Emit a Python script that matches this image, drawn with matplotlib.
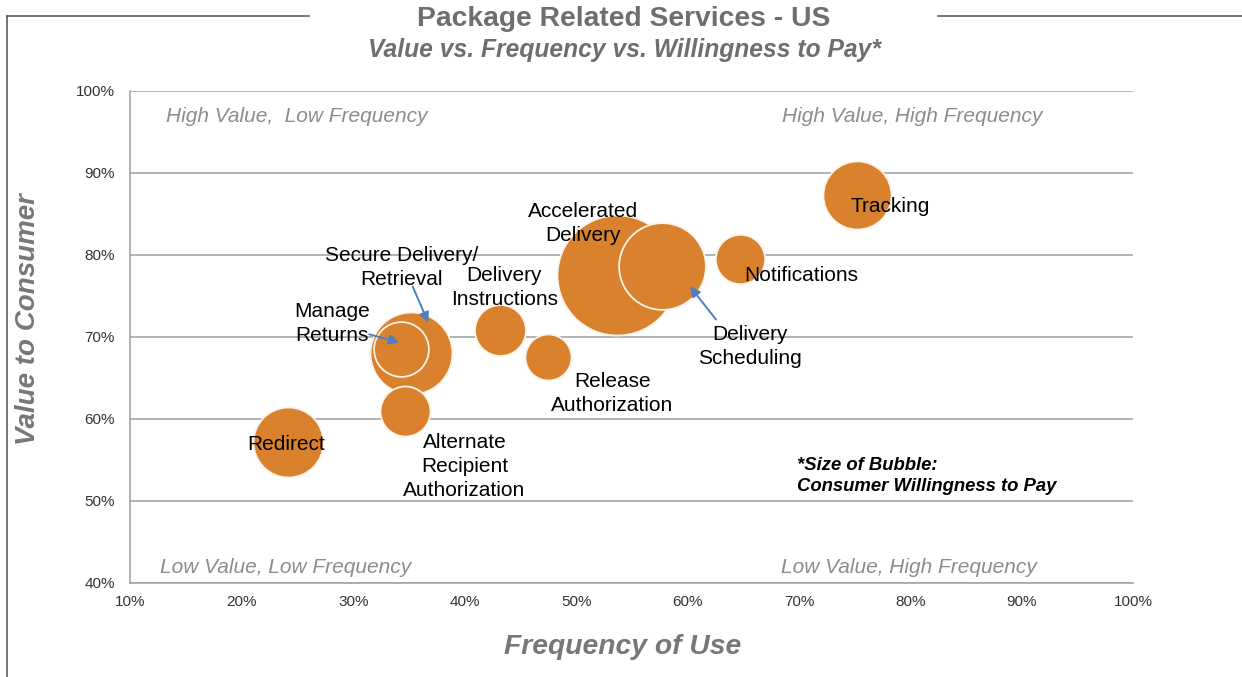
import matplotlib
matplotlib.use("Agg")
import matplotlib.pyplot as plt
from matplotlib.lines import Line2D
from matplotlib.transforms import offset_copy
import numpy as np

# ---------------- data ----------------
services = ["Tracking", "Notifications", "Accelerated\nDelivery", "Delivery\nScheduling",
            "Delivery\nInstructions", "Release\nAuthorization", "Secure Delivery/\nRetrieval",
            "Manage\nReturns", "Alternate\nRecipient\nAuthorization", "Redirect"]
frequency = [75.2, 64.7, 53.7, 57.7, 43.2, 47.5, 35.2, 34.3, 34.6, 24.1]   # % frequency of use
value = [87.3, 79.5, 77.6, 78.6, 70.9, 67.5, 68.1, 68.5, 61.0, 57.2]       # % value to consumer
willingness = [11.6, 6.1, 36.0, 18.8, 6.5, 5.3, 16.8, 7.5, 6.25, 12.25]    # bubble size
x_ticks = [10, 20, 30, 40, 50, 60, 70, 80, 90, 100]
y_ticks = [40, 50, 60, 70, 80, 90, 100]

# ---------------- layout / style ----------------
# label offsets (pixels) relative to bubble centre
label_offsets = [(33, -11), (61, -16), (-34, 51), (88, -80), (4, 42), (64, -36),
                 (-10, 85), (-69, 26), (60, -56), (-1.5, -3)]
# arrows: (service index, tail offset, head offset) in pixels
arrows = [(6, (1.5, 66), (17, 30)), (7, (-32, 15), (-2, 7)), (3, (54, -53), (28, -20))]

W, H, DPI = 1242, 677, 100
fig = plt.figure(figsize=(W / DPI, H / DPI), dpi=DPI)
plt.rcParams['font.family'] = ['Liberation Sans', 'DejaVu Sans']

L, R, T, B = 130.4, 1133.4, 91, 583
ax = fig.add_axes([L / W, 1 - B / H, (R - L) / W, (B - T) / H])
ax.set_xlim(10, 100)
ax.set_ylim(40, 100)

orange = "#D9812C"
grid_c = "#A6A6A6"
scale = (2 * 10 * 72 / DPI) ** 2  # radius_px = 10*sqrt(w)

order = np.argsort(willingness)[::-1]
for i in order:
    ax.scatter(frequency[i], value[i], s=willingness[i] * scale, color=orange,
               edgecolor="#FBF3EA", linewidth=1.3, zorder=3)

for i, name in enumerate(services):
    dx, dy = label_offsets[i]
    ax.annotate(name, (frequency[i], value[i]), xytext=(dx, dy), textcoords="offset pixels",
                ha="center", va="center", fontsize=15, color="black", zorder=6,
                linespacing=1.32)

for i, tail, head in arrows:
    tr_head = offset_copy(ax.transData, fig=fig, x=head[0], y=head[1], units="dots")
    tr_tail = offset_copy(ax.transData, fig=fig, x=tail[0], y=tail[1], units="dots")
    ax.annotate("", xy=(frequency[i], value[i]), xycoords=tr_head,
                xytext=(frequency[i], value[i]), textcoords=tr_tail,
                arrowprops=dict(arrowstyle="-|>,head_length=0.6,head_width=0.3",
                                color="#4F7FC0", lw=1.4, shrinkA=0, shrinkB=0),
                zorder=7)

ax.set_xticks(x_ticks)
ax.set_xticklabels([f"{t}%" for t in x_ticks])
ax.set_yticks(y_ticks)
ax.set_yticklabels([f"{t}%" for t in y_ticks])
ax.tick_params(axis="both", length=0, labelsize=11, labelcolor="#333333")
ax.tick_params(axis="y", pad=11)
ax.tick_params(axis="x", pad=9)
ax.yaxis.grid(True, color=grid_c, lw=1.2, zorder=0)
ax.set_axisbelow(True)
for s in ["top", "right"]:
    ax.spines[s].set_visible(False)
for s in ["left", "bottom"]:
    ax.spines[s].set_color(grid_c)
    ax.spines[s].set_linewidth(1.2)

quad_c = "#8C8C8C"
def axfrac(px, py):
    return ((px - L) / (R - L), (B - py) / (B - T))
for txt, px, py in [("High Value,  Low Frequency", 297, 117),
                    ("High Value, High Frequency", 912, 117),
                    ("Low Value, Low Frequency", 286, 567.7),
                    ("Low Value, High Frequency", 909, 567.7)]:
    ax.text(*axfrac(px, py), txt, transform=ax.transAxes, ha="center", va="center",
            fontsize=15, style="italic", color=quad_c)

ax.text(*axfrac(797, 476), "*Size of Bubble:\nConsumer Willingness to Pay", transform=ax.transAxes,
        ha="left", va="center", fontsize=13.3, style="italic", weight="bold", color="black",
        linespacing=1.3)

title_c = "#6E6E6E"
fig.text(624 / W, 1 - 19 / H, "Package Related Services - US", ha="center", va="center",
         fontsize=20.3, weight="bold", color=title_c)
fig.text(624 / W, 1 - 50 / H, "Value vs. Frequency vs. Willingness to Pay*", ha="center", va="center",
         fontsize=17.7, weight="bold", style="italic", color=title_c)
fig.text(623 / W, 1 - 647 / H, "Frequency of Use", ha="center", va="center",
         fontsize=20.3, weight="bold", style="italic", color="#777777")
fig.text(28 / W, 1 - 319 / H, "Value to Consumer", ha="center", va="center", rotation=90,
         fontsize=20, weight="bold", style="italic", color="#777777")

line_c = "#505050"
for xs, ys in [((7, 309), (15.7, 15.7)), ((938, 1242), (15.7, 15.7)), ((7, 7), (15.7, 677))]:
    fig.add_artist(Line2D([x / W for x in xs], [1 - y / H for y in ys], color=line_c, lw=1.1,
                          transform=fig.transFigure))

fig.savefig("out.png", dpi=DPI)
